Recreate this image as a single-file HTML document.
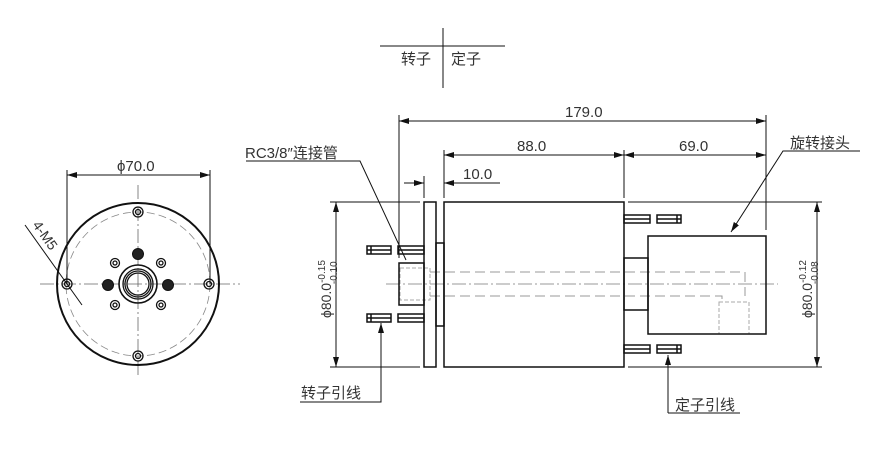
<!DOCTYPE html>
<html><head><meta charset="utf-8"><style>
body{margin:0;background:#fff}
svg{display:block}
text{font-family:"Liberation Sans","Noto Sans CJK SC",sans-serif;fill:#333}
</style></head><body>
<svg width="892" height="476" viewBox="0 0 892 476" xmlns="http://www.w3.org/2000/svg">
<defs>
<marker id="a" viewBox="0 0 10 6" refX="10" refY="3" markerWidth="10" markerHeight="6" orient="auto-start-reverse" markerUnits="userSpaceOnUse"><path d="M0,0L10,3L0,6z" fill="#111"/></marker>
</defs>
<g stroke="#111" fill="none" stroke-width="1">
<line x1="380" y1="46" x2="505" y2="46"/>
<line x1="443" y1="28" x2="443" y2="88"/>
</g>
<text x="401" y="64" font-size="15">转子</text>
<text x="451" y="64" font-size="15">定子</text>

<g fill="none" stroke="#111">
<line x1="40" y1="284" x2="240" y2="284" stroke="#666" stroke-dasharray="14,3,2,3" stroke-width="0.8"/>
<line x1="138" y1="185" x2="138" y2="375" stroke="#666" stroke-dasharray="14,3,2,3" stroke-width="0.8"/>
<circle cx="138" cy="284" r="81" stroke-width="2"/>
<circle cx="138" cy="284" r="72" stroke="#888" stroke-dasharray="8,4" stroke-width="0.8"/>
<g stroke-width="1.3">
<circle cx="138" cy="212" r="5"/><circle cx="138" cy="212" r="2.5"/>
<circle cx="138" cy="356" r="5"/><circle cx="138" cy="356" r="2.5"/>
<circle cx="67" cy="284" r="5"/><circle cx="67" cy="284" r="2.5"/>
<circle cx="209" cy="284" r="5"/><circle cx="209" cy="284" r="2.5"/>
<circle cx="115" cy="263" r="4.5"/><circle cx="115" cy="263" r="2"/>
<circle cx="161" cy="263" r="4.5"/><circle cx="161" cy="263" r="2"/>
<circle cx="115" cy="305" r="4.5"/><circle cx="115" cy="305" r="2"/>
<circle cx="161" cy="305" r="4.5"/><circle cx="161" cy="305" r="2"/>
<circle cx="138" cy="284" r="19" stroke-width="1.6"/>
<circle cx="138" cy="284" r="15"/>
<circle cx="138" cy="284" r="13"/>
<circle cx="138" cy="284" r="11"/>
</g>
<circle cx="138" cy="254" r="5.5" fill="#222"/>
<circle cx="108" cy="285" r="5.5" fill="#222"/>
<circle cx="168" cy="285" r="5.5" fill="#222"/>
<line x1="67" y1="170" x2="67" y2="284"/>
<line x1="210" y1="170" x2="210" y2="284"/>
<line x1="67" y1="175" x2="210" y2="175" marker-start="url(#a)" marker-end="url(#a)"/>
<line x1="25" y1="225" x2="82" y2="305"/>
</g>
<text x="117" y="171" font-size="15">ϕ70.0</text>
<text x="0" y="0" font-size="14" transform="translate(32,225) rotate(55)">4-M5</text>

<g fill="none" stroke="#111" stroke-width="1">
<line x1="386" y1="284" x2="778" y2="284" stroke="#777" stroke-dasharray="14,3,2,3" stroke-width="0.8"/>
<path d="M430 272H745V296" stroke="#999" stroke-dasharray="10,5"/>
<path d="M430 296H722V302" stroke="#999" stroke-dasharray="10,5"/>
<rect x="719" y="302" width="30" height="32" stroke="#aaa" stroke-dasharray="4,2"/>
<rect x="400" y="268" width="30" height="32" stroke="#aaa" stroke-dasharray="4,2"/>
<g stroke-width="1.5">
<rect x="424" y="202" width="12" height="165"/>
<rect x="436" y="243" width="8" height="83"/>
<rect x="444" y="202" width="180" height="165"/>
<rect x="624" y="258" width="24" height="52"/>
<rect x="648" y="236" width="118" height="98"/>
<rect x="399" y="263" width="25" height="42"/>
</g>
<g stroke-width="1.5">
<rect x="367" y="246" width="24" height="8"/><line x1="367" y1="250" x2="391" y2="250"/><line x1="371" y1="246" x2="371" y2="254"/>
<rect x="398" y="246" width="26" height="8"/><line x1="398" y1="250" x2="424" y2="250"/>
<rect x="367" y="314" width="24" height="8"/><line x1="367" y1="318" x2="391" y2="318"/><line x1="371" y1="314" x2="371" y2="322"/>
<rect x="398" y="314" width="26" height="8"/><line x1="398" y1="318" x2="424" y2="318"/>
<rect x="624" y="215" width="26" height="8"/><line x1="624" y1="219" x2="650" y2="219"/>
<rect x="657" y="215" width="24" height="8"/><line x1="657" y1="219" x2="681" y2="219"/><line x1="677" y1="215" x2="677" y2="223"/>
<rect x="624" y="345" width="26" height="8"/><line x1="624" y1="349" x2="650" y2="349"/>
<rect x="657" y="345" width="24" height="8"/><line x1="657" y1="349" x2="681" y2="349"/><line x1="677" y1="345" x2="677" y2="353"/>
</g>
<line x1="399" y1="115" x2="399" y2="258"/>
<line x1="766" y1="115" x2="766" y2="230"/>
<line x1="399" y1="121" x2="766" y2="121" marker-start="url(#a)" marker-end="url(#a)"/>
<line x1="444" y1="150" x2="444" y2="198"/>
<line x1="624" y1="150" x2="624" y2="198"/>
<line x1="444" y1="155" x2="624" y2="155" marker-start="url(#a)" marker-end="url(#a)"/>
<line x1="624" y1="155" x2="766" y2="155" marker-start="url(#a)" marker-end="url(#a)"/>
<line x1="424" y1="176" x2="424" y2="198"/>
<line x1="404" y1="183" x2="424" y2="183" marker-end="url(#a)"/>
<line x1="500" y1="183" x2="444" y2="183" marker-end="url(#a)"/>
<line x1="330" y1="202" x2="420" y2="202"/>
<line x1="330" y1="367" x2="420" y2="367"/>
<line x1="336" y1="202" x2="336" y2="367" marker-start="url(#a)" marker-end="url(#a)"/>
<line x1="628" y1="202" x2="822" y2="202"/>
<line x1="628" y1="367" x2="822" y2="367"/>
<line x1="817" y1="202" x2="817" y2="367" marker-start="url(#a)" marker-end="url(#a)"/>
<path d="M246 161H360L406 260"/>
<path d="M300 402H381V323" marker-end="url(#a)"/>
<path d="M668 413V355" marker-end="url(#a)"/>
<path d="M668 413H740"/>
<path d="M860 151H783L731 232" marker-end="url(#a)"/>
</g>
<text x="565" y="117" font-size="15">179.0</text>
<text x="517" y="151" font-size="15">88.0</text>
<text x="679" y="151" font-size="15">69.0</text>
<text x="463" y="179" font-size="15">10.0</text>
<text x="245" y="158" font-size="15">RC3/8″连接管</text>
<text x="790" y="148" font-size="15">旋转接头</text>
<text x="301" y="398" font-size="15">转子引线</text>
<text x="675" y="410" font-size="15">定子引线</text>
<text font-size="14" transform="translate(331,318) rotate(-90)">ϕ80.0<tspan font-size="10" dy="-6">-0.15</tspan><tspan font-size="10" dx="-24" dy="12">-0.10</tspan></text>
<text font-size="14" transform="translate(812,318) rotate(-90)">ϕ80.0<tspan font-size="10" dy="-6">-0.12</tspan><tspan font-size="10" dx="-24" dy="12">-0.08</tspan></text>
</svg>
</body></html>
